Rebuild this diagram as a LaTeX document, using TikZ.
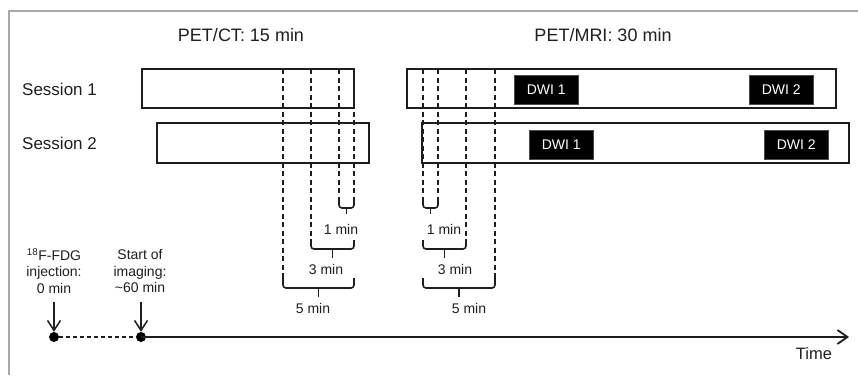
\documentclass[tikz,border=0pt]{standalone}
\usepackage{fontspec}
\setmainfont{Liberation Sans}
\usetikzlibrary{arrows.meta}
\definecolor{ink}{HTML}{1E1E1E}
\definecolor{framegray}{HTML}{A8A8A8}
\begin{document}
\begin{tikzpicture}[x=1pt,y=-1pt,
  every node/.style={text=ink},
  sessbox/.style={draw=ink, line width=1.6pt, inner sep=0pt, outer sep=0pt, anchor=north west},
  dwibox/.style={fill=black, draw=black!70, line width=0.6pt, text=white, inner sep=0pt, anchor=north west,
     font=\fontsize{14}{16}\selectfont},
  guide/.style={draw=ink, line width=1.4pt, dash pattern=on 5pt off 3.5pt},
  bracket/.style={draw=ink, line width=1.6pt, rounded corners=3pt},
  stem/.style={draw=ink, line width=1.6pt},
  minlbl/.style={font=\fontsize{14}{16}\selectfont, inner sep=0pt},
  title/.style={font=\fontsize{18}{21}\selectfont, inner sep=0pt},
  sesslbl/.style={font=\fontsize{17}{20}\selectfont, inner sep=0pt, anchor=west},
  evlbl/.style={font=\fontsize{14}{16.5}\selectfont, align=center, inner sep=0pt},
  dot/.style={circle, fill=black, inner sep=0pt, minimum size=10pt},
  down/.style={draw=ink, line width=1.5pt, -{Straight Barb[length=10pt,width=13pt,line width=1.5pt]}},
]
\useasboundingbox (0,0) rectangle (858,375);
% frame (cropped at right and bottom)
\draw[framegray, line width=2pt] (9,375) -- (9,11) -- (858,11);

% titles
\node[title] (tct) at (241,35) {PET/CT: 15 min};
\node[title] (tmr) at (603,35) {PET/MRI: 30 min};

% session labels
\node[sesslbl] (l1) at (22,89) {Session 1};
\node[sesslbl] (l2) at (22,143) {Session 2};

% dashed guides PET/CT
\draw[guide] (283,69) -- (283,278);
\draw[guide] (311,69) -- (311,240);
\draw[guide] (339,69) -- (339,198);
\draw[guide] (354,69) -- (354,198);
% dashed guides PET/MRI
\draw[guide] (423,69) -- (423,198);
\draw[guide] (438,69) -- (438,198);
\draw[guide] (466,69) -- (466,240);
\draw[guide] (495,69) -- (495,278);

% session boxes
\node[sessbox, minimum width=212pt, minimum height=39pt] (s1ct) at (142,69) {};
\node[sessbox, minimum width=212pt, minimum height=40pt] (s2ct) at (157,123) {};
\node[sessbox, minimum width=429pt, minimum height=39pt] (s1mr) at (407,69) {};
\node[sessbox, minimum width=427pt, minimum height=40pt] (s2mr) at (422,123) {};

% DWI boxes
\node[dwibox, minimum width=64pt, minimum height=29pt] (d11) at (514,75) {DWI 1};
\node[dwibox, minimum width=64pt, minimum height=29pt] (d12) at (749,75) {DWI 2};
\node[dwibox, minimum width=64pt, minimum height=29pt] (d21) at (529,130) {DWI 1};
\node[dwibox, minimum width=64pt, minimum height=29pt] (d22) at (764,130) {DWI 2};

% braces PET/CT
\draw[bracket] (339,198) -- (339,208) -- (354,208) -- (354,198);
\draw[stem] (346.5,208) -- (346.5,214);
\node[minlbl] (c1) at (341,229) {1 min};
\draw[bracket] (311,240) -- (311,249) -- (354,249) -- (354,240);
\draw[stem] (332.5,249) -- (332.5,258);
\node[minlbl] (c3) at (326,269) {3 min};
\draw[bracket] (283,278) -- (283,288) -- (354,288) -- (354,278);
\draw[stem] (318.5,288) -- (318.5,297);
\node[minlbl] (c5) at (313,308) {5 min};

% braces PET/MRI
\draw[bracket] (423,198) -- (423,208) -- (438,208) -- (438,198);
\draw[stem] (430.5,208) -- (430.5,214);
\node[minlbl] (m1) at (444,229) {1 min};
\draw[bracket] (423,240) -- (423,249) -- (466,249) -- (466,240);
\draw[stem] (444.5,249) -- (444.5,258);
\node[minlbl] (m3) at (455,269) {3 min};
\draw[bracket] (423,278) -- (423,288) -- (495,288) -- (495,278);
\draw[stem] (459,288) -- (459,297);
\node[minlbl] (m5) at (469,308) {5 min};

% timeline
\node[dot] (inj) at (54,337) {};
\node[dot] (img) at (141,337) {};
\coordinate (tend) at (849,337);
\draw[ink, line width=1.5pt, dash pattern=on 4pt off 3pt] (inj) -- (img);
\draw[ink, line width=2pt, -{Straight Barb[length=10pt,width=14pt,line width=1.8pt]}] (img.center) -- (tend);
\node[font=\fontsize{16.5}{19}\selectfont, inner sep=0pt] (time) at (814,354) {Time};

% event labels and arrows
\node[evlbl] (injl) at (54,271) {\textsuperscript{18}F-FDG\\injection:\\0 min};
\node[evlbl] (imgl) at (140,271) {Start of\\imaging:\\\textasciitilde60 min};
\coordinate (injtop) at (54,302);
\coordinate (imgtop) at (141,302);
\draw[down] (injtop) -- (inj.north);
\draw[down] (imgtop) -- (img.north);
\end{tikzpicture}
\end{document}
